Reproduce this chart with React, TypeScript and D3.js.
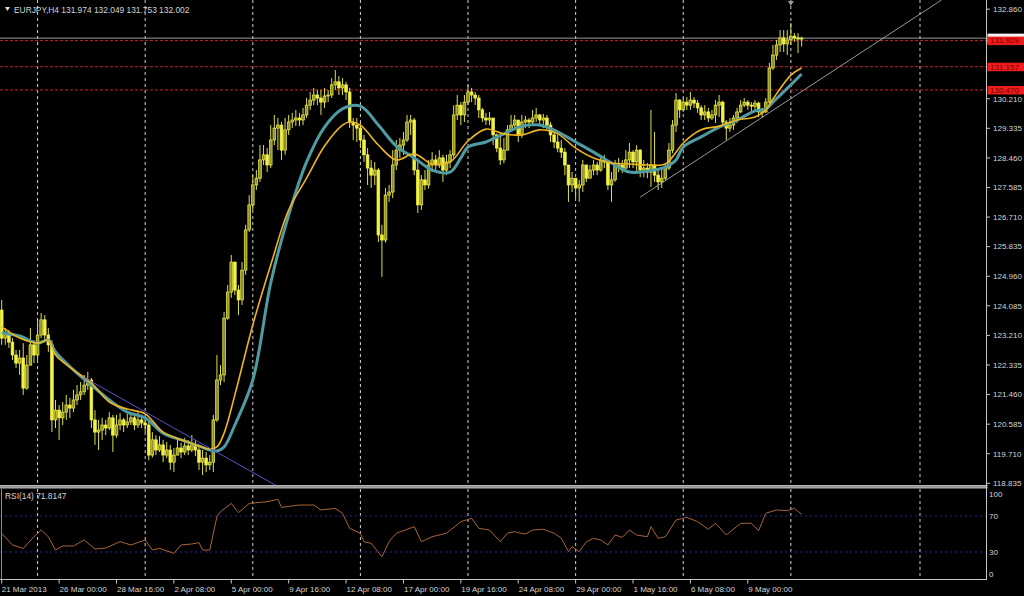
import React from 'react';
import * as d3 from 'd3';

const W = 1024;
const H = 596;

const symbolTitle = 'EURJPY,H4  131.974 132.049 131.753 132.002';
const firstOpen = 123.96;

const closes = [
  123.13, 123.28, 123.01, 122.63, 122.39, 122.54, 121.65, 122.33, 122.93, 122.63,
  123.22, 123.67, 123.22, 122.93, 120.71, 121.00, 120.77, 120.94, 121.15, 121.06,
  121.30, 121.45, 121.54, 121.74, 121.89, 120.71, 120.35, 120.41, 120.56, 120.47,
  120.77, 120.26, 120.56, 120.71, 120.56, 120.65, 120.77, 120.56, 120.71, 120.62,
  120.56, 119.67, 120.12, 119.82, 119.97, 119.67, 119.82, 119.46, 119.67, 119.88,
  119.76, 119.94, 119.82, 119.97, 119.82, 119.46, 119.58, 119.38, 119.46, 120.71,
  121.89, 122.04, 123.72, 124.49, 125.38, 124.55, 124.26, 125.14, 126.33, 127.07,
  127.66, 127.86, 128.40, 128.55, 128.25, 128.99, 129.34, 129.43, 128.69, 129.29,
  129.52, 129.58, 129.64, 129.58, 129.73, 130.02, 130.17, 130.32, 130.23, 130.11,
  130.29, 130.32, 130.62, 130.71, 130.53, 130.62, 130.41, 129.52, 129.43, 129.34,
  128.99, 128.55, 128.16, 127.95, 128.10, 126.18, 126.03, 127.36, 127.45, 128.25,
  128.69, 128.84, 128.99, 129.52, 129.58, 128.10, 127.07, 127.81, 127.66, 128.25,
  128.40, 128.25, 128.46, 128.10, 128.34, 128.55, 129.73, 130.02, 129.73, 130.11,
  130.41, 130.32, 130.23, 129.88, 129.64, 129.58, 129.64, 129.14, 128.75, 128.40,
  128.69, 129.29, 129.43, 129.58, 129.14, 129.52, 129.58, 129.52, 129.64, 129.73,
  129.58, 129.64, 129.43, 129.14, 128.93, 128.75, 128.63, 128.25, 127.66, 127.86,
  127.57, 127.66, 128.25, 127.86, 128.10, 128.25, 128.10, 128.40, 128.34, 127.66,
  127.81, 128.25, 128.25, 128.16, 128.40, 128.63, 128.34, 128.69, 128.10, 128.16,
  128.04, 128.25, 127.95, 127.75, 127.86, 128.16, 128.69, 129.43, 130.17, 129.88,
  130.11, 130.02, 130.17, 130.08, 129.94, 129.73, 129.82, 129.64, 129.73, 130.02,
  130.11, 129.52, 129.34, 129.43, 129.64, 129.82, 130.02, 130.11, 130.02, 129.99,
  130.08, 129.82, 129.82, 130.11, 131.12, 131.50, 131.80, 132.01, 131.83, 131.95,
  132.06, 132.01, 131.974, 132.002,
];

const highs = [
  124.26, 123.43, 123.37, 123.13, 122.78, 122.78, 122.98, 122.63, 123.43, 123.07,
  123.72, 123.87, 123.81, 123.43, 123.07, 121.30, 121.15, 121.24, 121.45, 121.36,
  121.60, 121.74, 121.83, 122.04, 122.13, 121.95, 121.00, 120.71, 120.77, 120.71,
  120.94, 120.86, 120.86, 120.91, 120.77, 120.89, 120.94, 120.86, 120.94, 120.86,
  120.77, 120.71, 120.35, 120.26, 120.23, 120.12, 120.06, 119.97, 119.88, 120.12,
  120.03, 120.18, 120.12, 120.26, 120.12, 119.97, 119.82, 119.76, 119.67, 120.86,
  122.63, 122.33, 123.90, 124.70, 125.59, 125.38, 124.70, 125.38, 126.48, 127.36,
  127.95, 128.10, 128.84, 128.84, 128.75, 129.43, 129.73, 129.64, 129.52, 129.64,
  129.73, 129.79, 129.88, 129.79, 129.94, 130.23, 130.41, 130.53, 130.47, 130.47,
  130.53, 130.47, 130.82, 131.06, 130.88, 130.82, 130.71, 130.53, 129.64, 129.64,
  129.52, 129.14, 128.75, 128.40, 128.34, 128.16, 126.48, 127.57, 127.66, 128.69,
  128.99, 129.05, 129.23, 129.73, 129.73, 129.64, 128.40, 127.95, 128.10, 128.40,
  128.63, 128.55, 128.69, 128.55, 128.55, 128.69, 130.02, 130.32, 130.11, 130.32,
  130.62, 130.53, 130.41, 130.32, 129.94, 129.79, 129.82, 129.64, 129.18, 129.23,
  129.05, 129.43, 129.73, 129.73, 129.58, 129.73, 129.70, 129.64, 129.88, 129.94,
  129.76, 129.76, 129.73, 129.52, 129.29, 129.14, 128.99, 128.75, 128.25, 128.04,
  127.86, 127.81, 128.40, 128.25, 128.25, 128.40, 128.34, 128.55, 128.55, 128.40,
  128.04, 128.40, 128.46, 128.40, 128.69, 128.90, 128.69, 128.84, 128.72, 128.40,
  128.31, 129.88, 129.23, 128.16, 128.16, 128.31, 128.90, 129.58, 130.38, 130.20,
  130.23, 130.26, 130.41, 130.26, 130.17, 130.02, 130.02, 129.94, 129.88, 130.17,
  130.32, 130.15, 129.58, 129.64, 129.73, 129.94, 130.17, 130.23, 130.17, 130.11,
  130.17, 130.12, 129.94, 130.23, 131.27, 131.80, 131.95, 132.24, 132.24, 132.24,
  132.45, 132.15, 132.15, 132.049,
];

const lows = [
  122.93, 122.93, 122.84, 122.48, 122.25, 122.04, 121.45, 121.60, 122.33, 122.39,
  122.48, 123.13, 123.01, 122.72, 120.35, 120.47, 120.12, 120.56, 120.71, 120.77,
  120.94, 121.15, 121.30, 121.45, 121.60, 120.47, 119.97, 119.82, 120.12, 120.26,
  120.41, 119.76, 120.18, 120.41, 120.35, 120.47, 120.56, 120.41, 120.47, 120.47,
  120.35, 119.52, 119.60, 119.67, 119.76, 119.46, 119.58, 119.23, 119.17, 119.67,
  119.58, 119.67, 119.67, 119.76, 119.64, 119.23, 119.08, 119.17, 119.23, 119.17,
  120.65, 121.74, 121.83, 123.67, 124.32, 124.40, 123.81, 124.11, 125.00, 126.27,
  126.92, 127.51, 127.75, 128.25, 128.04, 128.16, 128.84, 128.69, 128.40, 128.55,
  129.14, 129.34, 129.40, 129.40, 129.43, 129.64, 129.88, 130.02, 130.02, 129.73,
  129.94, 130.11, 130.23, 130.47, 130.32, 130.32, 130.17, 129.34, 128.99, 128.93,
  128.75, 128.34, 127.66, 127.57, 127.66, 125.97, 124.94, 125.95, 127.16, 127.27,
  128.10, 128.46, 128.55, 128.93, 129.14, 127.95, 126.83, 126.92, 127.51, 127.55,
  128.04, 128.04, 128.16, 127.75, 127.95, 128.16, 128.46, 129.58, 129.43, 129.52,
  130.02, 130.11, 130.02, 129.64, 129.52, 129.43, 129.43, 128.84, 128.63, 128.25,
  128.30, 128.69, 129.23, 129.34, 128.93, 129.05, 129.34, 129.34, 129.43, 129.52,
  129.43, 129.34, 129.29, 128.93, 128.75, 128.63, 128.46, 127.95, 127.16, 127.45,
  127.27, 127.16, 127.45, 127.75, 127.86, 127.95, 127.95, 128.05, 128.16, 127.51,
  127.16, 127.75, 128.04, 128.01, 128.10, 128.16, 128.16, 128.04, 127.89, 127.89,
  127.86, 127.60, 127.75, 127.51, 127.57, 127.80, 128.10, 128.60, 129.23, 129.64,
  129.82, 129.88, 129.88, 129.94, 129.79, 129.58, 129.58, 129.52, 129.58, 129.49,
  129.67, 129.37, 128.99, 129.23, 129.29, 129.49, 129.79, 129.96, 129.88, 129.82,
  129.88, 129.67, 129.64, 129.79, 130.02, 131.06, 131.36, 131.59, 131.59, 131.50,
  131.80, 131.89, 131.56, 131.753,
];

// Moving averages (bar index, price)
const maFastBars = [0, 5, 10, 13, 15, 20, 25, 30, 35, 40, 45, 50, 55, 58, 60, 62, 65, 70, 75, 80, 85, 90, 95, 97, 100, 105, 110, 115, 120, 125, 130, 135, 140, 145, 150, 155, 160, 165, 170, 175, 180, 185, 188, 190, 195, 200, 205, 210, 213, 215, 220, 223];
const maFastValues = [123.46, 123.13, 122.98, 123.07, 122.63, 122.19, 121.80, 121.24, 121.03, 120.89, 120.35, 120.12, 119.94, 119.85, 119.91, 120.32, 121.45, 123.52, 125.29, 126.92, 127.86, 128.81, 129.43, 129.52, 129.43, 128.84, 128.40, 128.58, 128.28, 128.34, 128.96, 129.31, 129.17, 129.14, 129.29, 129.17, 128.75, 128.46, 128.31, 128.28, 128.25, 128.28, 128.63, 128.90, 129.29, 129.40, 129.58, 129.67, 129.88, 130.20, 130.91, 131.12];

const maSlowBars = [0, 5, 10, 13, 15, 20, 25, 30, 35, 40, 45, 50, 55, 58, 60, 62, 65, 70, 75, 80, 85, 90, 95, 100, 105, 110, 115, 120, 125, 128, 130, 135, 140, 145, 150, 155, 160, 165, 170, 175, 180, 185, 188, 190, 195, 200, 205, 210, 213, 215, 220, 223];
const maSlowValues = [123.28, 123.19, 122.98, 123.07, 122.72, 122.19, 121.74, 121.30, 120.94, 120.77, 120.32, 120.12, 119.94, 119.82, 119.79, 119.91, 120.56, 121.89, 124.76, 126.77, 128.34, 129.37, 129.91, 129.99, 129.43, 128.81, 128.46, 128.10, 128.04, 128.46, 128.78, 128.93, 129.17, 129.40, 129.43, 129.23, 128.93, 128.63, 128.31, 128.04, 128.07, 128.19, 128.40, 128.78, 129.08, 129.37, 129.58, 129.85, 129.91, 130.11, 130.62, 130.94];

// RSI(14)
const rsiBars = [0, 3, 6, 9, 11, 13, 15, 17, 20, 23, 26, 29, 33, 36, 40, 42, 44, 48, 50, 53, 55, 56, 58, 60, 61, 64, 66, 69, 74, 77, 78, 83, 87, 89, 93, 95, 97, 100, 101, 103, 106, 108, 110, 115, 117, 120, 124, 128, 131, 133, 136, 139, 141, 143, 144, 146, 148, 151, 154, 156, 158, 159, 161, 163, 165, 167, 169, 171, 173, 175, 177, 180, 181, 183, 185, 188, 191, 194, 197, 199, 202, 206, 209, 211, 213, 216, 219, 221, 223];
const rsiValues = [50.8, 37.8, 34, 47, 54.4, 47, 32.2, 36.7, 36.7, 43.3, 33.3, 34.4, 41.5, 37.8, 43.3, 32.2, 34, 28.5, 37.8, 38.9, 40.4, 32.2, 32.2, 69.3, 74.8, 84, 73.7, 84, 85.9, 88.5, 79.6, 82.2, 82.2, 76.7, 78.5, 73, 56.3, 50.8, 41.5, 39.6, 24.8, 41.5, 50.8, 58.1, 41.5, 47, 50.8, 63.7, 67.4, 56.3, 54.4, 41.5, 50.8, 52.6, 51.5, 50, 54.4, 55.2, 50.8, 45.2, 30.4, 35.9, 30.4, 41.5, 45.2, 43.3, 37.8, 48.9, 46.3, 54.4, 48.9, 47, 58.1, 45.2, 47, 65.6, 68.5, 63.7, 55.2, 61.9, 48.9, 61.9, 61.9, 53.7, 73, 76.7, 75.9, 78.5, 71.8147];

const priceTicks = [132.860, 130.210, 129.335, 128.460, 127.585, 126.710, 125.835, 124.960, 124.085, 123.210, 122.335, 121.460, 120.585, 119.710, 118.835];
const levelLines = [131.929, 131.157, 130.470];
const bidPrice = 132.002;
const rsiLevels = [70, 30];
const rsiTicks = [100, 70, 30, 0];

const timeLabels = ['21 Mar 2013', '26 Mar 00:00', '28 Mar 16:00', '2 Apr 08:00', '5 Apr 00:00', '9 Apr 16:00', '12 Apr 08:00', '17 Apr 00:00', '19 Apr 16:00', '24 Apr 08:00', '29 Apr 00:00', '1 May 16:00', '6 May 08:00', '9 May 00:00'];
const timeLabelBars = [0, 16, 32, 48, 64, 80, 96, 112, 128, 144, 160, 176, 192, 208];
const gridBars = [10, 40, 70, 100, 130, 160, 190, 220, 256];

const trendDown = [[22.7, 121.98], [77, 118.74]];
const trendUp = [[178, 127.30], [262, 133.13]];

const FONT = 'Liberation Sans, Arial, sans-serif';
const TXT = '#d4d4d4';

export default function App() {
  const axisX = 986.5;
  const mainTop = 0;
  const mainBottom = 485;
  const rsiTop = 489;
  const rsiBottom = 579;

  const x = d3.scaleLinear().domain([0, 256]).range([1.7, 920]);
  const y = d3.scaleLinear().domain([118.785, 133.13]).range([mainBottom, mainTop]);
  const yr = d3.scaleLinear().domain([0, 100]).range([rsiBottom, rsiTop]);

  const candles = closes.map((c, i) => {
    const o = i === 0 ? firstOpen : closes[i - 1];
    const h = Math.max(highs[i], o, c);
    const l = Math.min(lows[i], o, c);
    return { i, o, h, l, c };
  });

  const bodyW = 2.7;

  const curve = d3.curveCatmullRom.alpha(0.5);
  const fastPath = d3
    .line<[number, number]>()
    .x((d) => x(d[0]))
    .y((d) => y(d[1]))
    .curve(curve)(maFastBars.map((b, k) => [b, maFastValues[k]] as [number, number]));
  const slowPath = d3
    .line<[number, number]>()
    .x((d) => x(d[0]))
    .y((d) => y(d[1]))
    .curve(curve)(maSlowBars.map((b, k) => [b, maSlowValues[k]] as [number, number]));
  const rsiPath = d3
    .line<[number, number]>()
    .x((d) => x(d[0]))
    .y((d) => yr(d[1]))(rsiBars.map((b, k) => [b, rsiValues[k]] as [number, number]));

  const lastRsi = rsiValues[rsiValues.length - 1];

  return (
    <div style={{ position: 'absolute', left: 0, top: 0 }}>
      <svg width={W} height={H} style={{ display: 'block', background: '#000' }} fontFamily={FONT}>
        <defs>
          <clipPath id="mainClip">
            <rect x={0} y={mainTop} width={axisX} height={mainBottom - mainTop} />
          </clipPath>
          <clipPath id="rsiClip">
            <rect x={0} y={rsiTop} width={axisX} height={rsiBottom - rsiTop} />
          </clipPath>
        </defs>
        <rect x={0} y={0} width={W} height={H} fill="#000" />

        {/* vertical grid */}
        {gridBars.map((b) => (
          <g key={'g' + b}>
            <line x1={x(b)} x2={x(b)} y1={mainTop} y2={mainBottom} stroke="#d0d0d0" strokeWidth={1} strokeDasharray="3,3" />
            <line x1={x(b)} x2={x(b)} y1={rsiTop} y2={rsiBottom} stroke="#d0d0d0" strokeWidth={1} strokeDasharray="3,3" />
          </g>
        ))}

        {/* bid line */}
        <line x1={0} x2={axisX} y1={y(bidPrice)} y2={y(bidPrice)} stroke="#9a9a9a" strokeWidth={1} />
        {/* horizontal levels */}
        {levelLines.map((p) => (
          <line key={'lv' + p} x1={0} x2={axisX} y1={y(p)} y2={y(p)} stroke="#c8202a" strokeWidth={1} strokeDasharray="3,2" />
        ))}

        {/* candles */}
        <g clipPath="url(#mainClip)">
          {candles.map((d) => {
            const cx = x(d.i);
            const top = y(Math.max(d.o, d.c));
            const bot = y(Math.min(d.o, d.c));
            const bull = d.c >= d.o;
            return (
              <g key={'c' + d.i}>
                <line x1={cx} x2={cx} y1={y(d.h)} y2={y(d.l)} stroke="#dede48" strokeWidth={1} />
                <rect
                  x={cx - bodyW / 2}
                  y={top}
                  width={bodyW}
                  height={Math.max(1, bot - top)}
                  fill={bull ? '#8e8e2c' : '#f2f244'}
                  stroke="#f2f24c"
                  strokeWidth={0.7}
                />
              </g>
            );
          })}

          {/* moving averages */}
          <path d={slowPath || ''} fill="none" stroke="#4f9ba3" strokeWidth={3} />
          <path d={fastPath || ''} fill="none" stroke="#f0b41c" strokeWidth={1.6} />

          {/* trend lines */}
          <line x1={x(trendDown[0][0])} y1={y(trendDown[0][1])} x2={x(trendDown[1][0])} y2={y(trendDown[1][1])} stroke="#5a50d0" strokeWidth={1} />
          <line x1={x(trendUp[0][0])} y1={y(trendUp[0][1])} x2={x(trendUp[1][0])} y2={y(trendUp[1][1])} stroke="#a8a8a8" strokeWidth={0.9} />
        </g>

        {/* top shift marker */}
        <path d={`M${x(220) - 3},1 L${x(220) + 3},1 L${x(220)},6 Z`} fill="#9a9a9a" />

        {/* title */}
        <path d="M5,7 L10,7 L7.5,11 Z" fill="#e0e0e0" />
        <text x={14} y={12.5} fontSize={8.4} fill={TXT}>
          {symbolTitle}
        </text>

        {/* separator between panels */}
        <rect x={0} y={mainBottom} width={axisX + 1} height={3.5} fill="#b4b4b4" />
        <line x1={0} x2={axisX} y1={mainBottom + 1.75} y2={mainBottom + 1.75} stroke="#7a7a7a" strokeWidth={0.8} />

        {/* RSI panel */}
        {rsiLevels.map((v) => (
          <line key={'rl' + v} x1={0} x2={axisX} y1={yr(v)} y2={yr(v)} stroke="#24249a" strokeWidth={1} strokeDasharray="2,3" />
        ))}
        <g clipPath="url(#rsiClip)">
          <path d={rsiPath || ''} fill="none" stroke="#a8643a" strokeWidth={1} />
        </g>
        <line x1={1.5} x2={1.5} y1={rsiTop} y2={rsiBottom} stroke="#8a8a8a" strokeWidth={1} />
        <text x={5} y={499} fontSize={8.4} fill={TXT}>
          {`RSI(14) ${lastRsi.toFixed(4)}`}
        </text>

        {/* axis frame */}
        <line x1={axisX} x2={axisX} y1={0} y2={rsiBottom + 1} stroke="#c8c8c8" strokeWidth={1} />
        <line x1={0} x2={axisX} y1={rsiBottom + 0.5} y2={rsiBottom + 0.5} stroke="#c8c8c8" strokeWidth={1} />

        {/* price axis */}
        {priceTicks.map((p) => (
          <g key={'pt' + p}>
            <line x1={axisX} x2={axisX + 3.5} y1={y(p)} y2={y(p)} stroke="#c8c8c8" strokeWidth={1} />
            <text x={993} y={y(p)} dy="0.35em" fontSize={8} fill={TXT}>
              {p.toFixed(3)}
            </text>
          </g>
        ))}

        {/* bid marker (white box, hidden mostly behind the red label) */}
        <rect x={axisX + 1} y={y(bidPrice) - 4.5} width={W - axisX - 1} height={9} fill="#f4f4f4" />
        {/* level labels (red) */}
        {levelLines.map((p) => (
          <g key={'ll' + p}>
            <rect x={axisX + 1} y={y(p) - 4} width={W - axisX - 1} height={8.5} fill="#ee1c1c" />
            <text x={990} y={y(p)} dy="0.35em" fontSize={8} fill="#7a0000">
              {p.toFixed(3)}
            </text>
          </g>
        ))}

        {/* RSI axis */}
        {rsiTicks.map((v) => {
          const yy = v === 100 ? yr(v) + 5 : v === 0 ? yr(v) - 5 : yr(v);
          return (
            <text key={'rt' + v} x={989} y={yy} dy="0.35em" fontSize={8} fill={TXT}>
              {v}
            </text>
          );
        })}

        {/* time axis */}
        {timeLabelBars.map((b, k) => (
          <g key={'tl' + b}>
            <line x1={x(b)} x2={x(b)} y1={rsiBottom + 1} y2={rsiBottom + 4.5} stroke="#c8c8c8" strokeWidth={1} />
            <text x={x(b) + (k === 0 ? 0 : 0.5)} y={591.5} fontSize={8} fill={TXT}>
              {timeLabels[k]}
            </text>
          </g>
        ))}
      </svg>
    </div>
  );
}
